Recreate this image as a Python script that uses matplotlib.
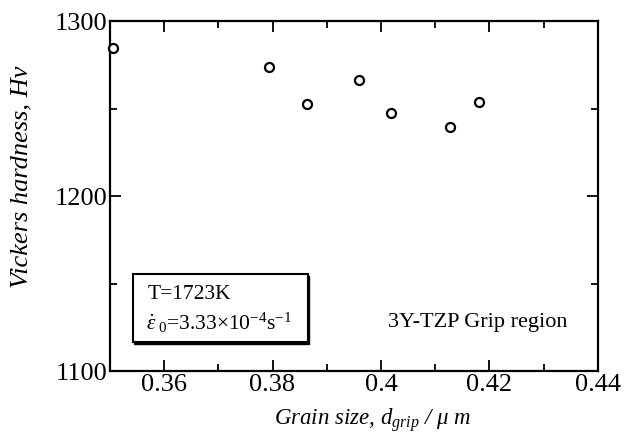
import matplotlib
matplotlib.use("Agg")
import matplotlib.pyplot as plt
from matplotlib.ticker import MultipleLocator
from matplotlib.patches import Rectangle

# Grain size (um) and Vickers hardness
grain_size = [0.3506, 0.3794, 0.3864, 0.3960, 0.4018, 0.4128, 0.4180]
hardness = [1284.5, 1273.5, 1252.5, 1266.5, 1247.5, 1239.5, 1254.0]

x_ticks = [0.36, 0.38, 0.40, 0.42, 0.44]
x_tick_labels = ["0.36", "0.38", "0.4", "0.42", "0.44"]
y_ticks = [1100, 1200, 1300]

plt.rcParams['font.family'] = ['Liberation Serif', 'DejaVu Serif']
plt.rcParams['mathtext.fontset'] = 'custom'
plt.rcParams['mathtext.rm'] = 'Liberation Serif'
plt.rcParams['mathtext.it'] = 'Liberation Serif:italic'

fig = plt.figure(figsize=(6.28, 4.43), dpi=100)
ax = fig.add_axes([0.175, 0.1625, 0.777, 0.79])

ax.plot(grain_size, hardness, 'o', mfc='white', mec='black', mew=1.6, ms=6.5,
        clip_on=False, zorder=5)

ax.set_xlim(0.35, 0.44)
ax.set_ylim(1100, 1300)
ax.set_xticks(x_ticks)
ax.set_xticklabels(x_tick_labels)
ax.set_yticks(y_ticks)
ax.xaxis.set_minor_locator(MultipleLocator(0.01))
ax.yaxis.set_minor_locator(MultipleLocator(50))

for s in ax.spines.values():
    s.set_linewidth(1.6)
ax.tick_params(which='both', direction='in', top=True, right=True, width=1.3)
ax.tick_params(which='major', length=8, labelsize=19, pad=2)
ax.tick_params(which='minor', length=5)

ax.set_xlabel(r'Grain size, $d_{grip}$ / $\mu\ m$', fontsize=16.5, style='italic')
ax.xaxis.set_label_coords(0.539, -0.10)
ax.set_ylabel('Vickers hardness, Hv', fontsize=19, style='italic')
ax.yaxis.set_label_coords(-0.158, 0.554)

# condition box with a small drop shadow
ax.add_patch(Rectangle((0.3545, 1115.2), 0.0323, 39, transform=ax.transData,
                       facecolor='black', edgecolor='black', zorder=3))
ax.add_patch(Rectangle((0.3542, 1116.4), 0.0323, 39, transform=ax.transData,
                       facecolor='white', edgecolor='black', lw=1.5, zorder=4))
ax.text(0.357, 1143.5, 'T=1723K', fontsize=15.5, va='center', zorder=6)
ax.text(0.3567, 1127.5, r'$\dot{\varepsilon}_{\ 0}$=3.33$\times$10$^{-4}$s$^{-1}$',
        fontsize=15.5, va='center', zorder=6)

ax.text(0.4179, 1128, '3Y-TZP Grip region', fontsize=16, ha='center', va='center')

fig.savefig('out.png', dpi=100)
